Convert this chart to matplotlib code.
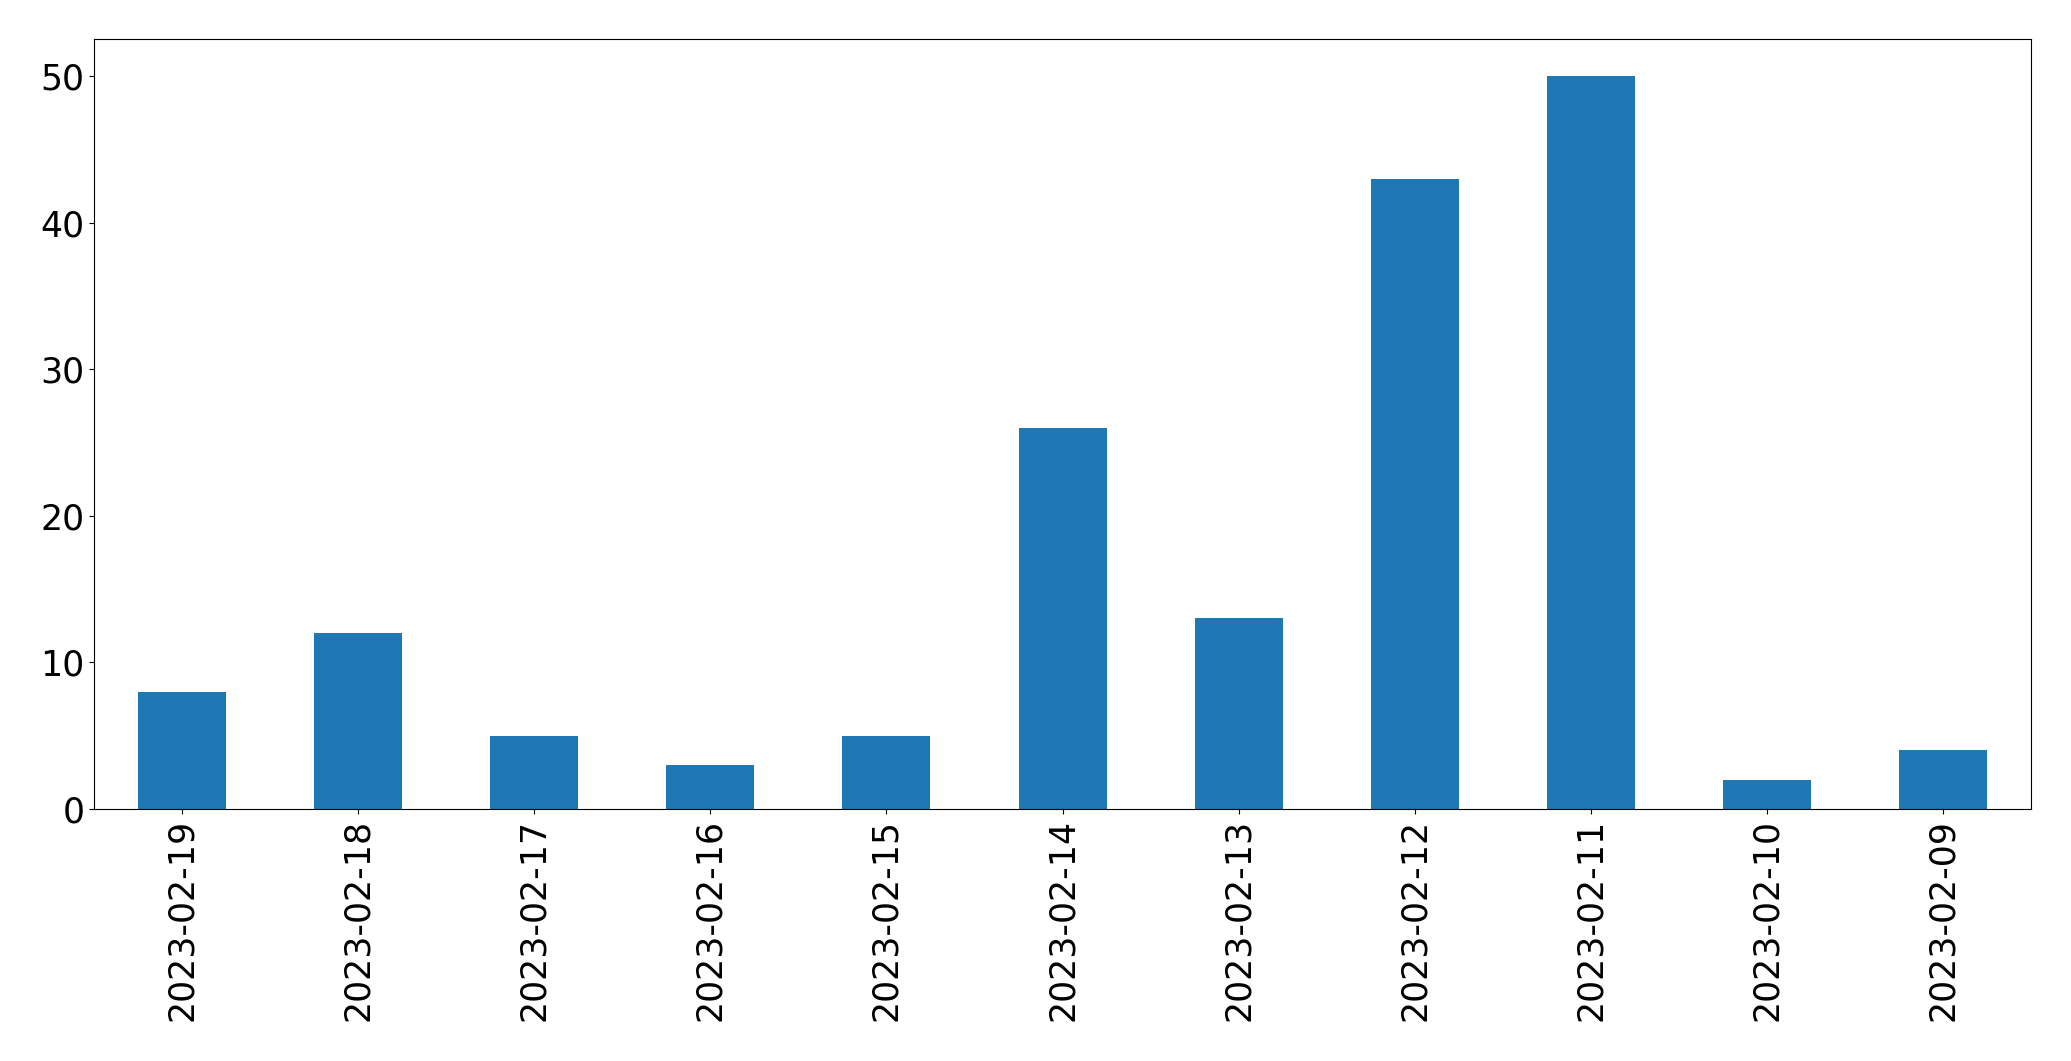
import pandas as pd
import matplotlib
matplotlib.use("Agg")
import matplotlib.pyplot as plt

dates = ["2023-02-19", "2023-02-18", "2023-02-17", "2023-02-16", "2023-02-15",
         "2023-02-14", "2023-02-13", "2023-02-12", "2023-02-11", "2023-02-10",
         "2023-02-09"]
counts = [8, 12, 5, 3, 5, 26, 13, 43, 50, 2, 4]

s = pd.Series(counts, index=dates)

fig, ax = plt.subplots(figsize=(20.71, 10.61), dpi=100)
fig.subplots_adjust(left=0.0454, right=0.9807, top=0.9628, bottom=0.2375)
s.plot(kind="bar", ax=ax, color="#1f77b4")
ax.tick_params(axis="both", labelsize=25)

fig.savefig("out.png", dpi=100)
